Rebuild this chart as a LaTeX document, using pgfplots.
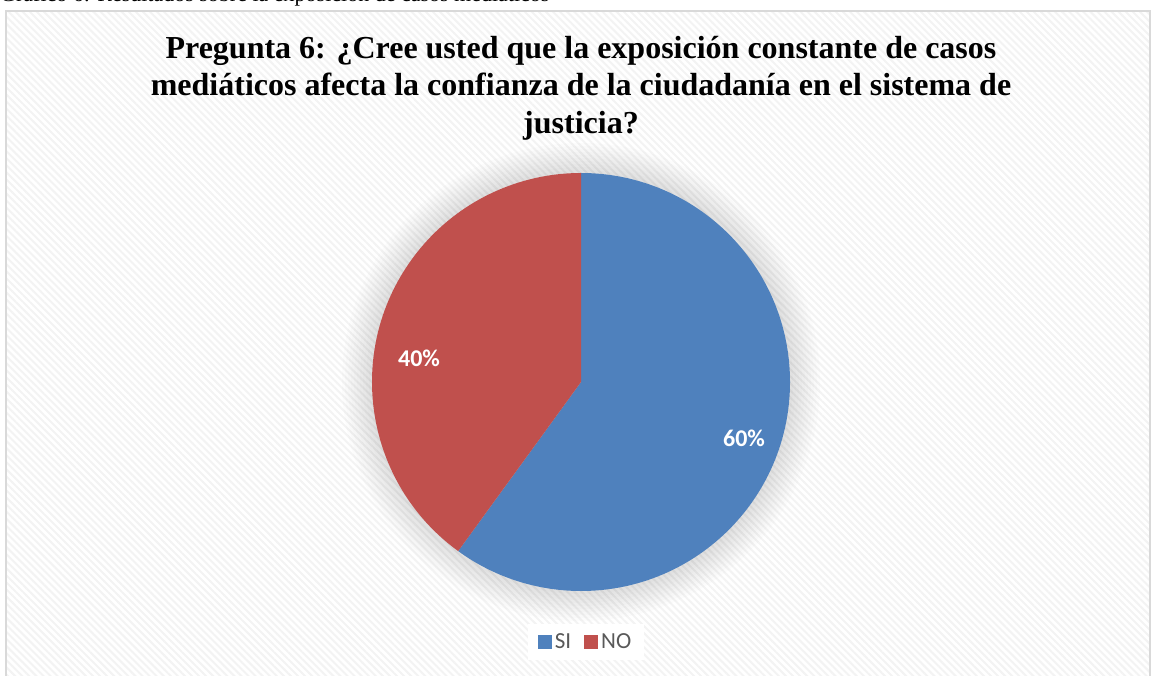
\documentclass[border=0pt]{standalone}
\usepackage{fontspec}
\setmainfont{Liberation Serif}
\newfontfamily\calibri{Carlito}
\usepackage{pgfplots}
\pgfplotsset{compat=1.18}
\usepackage{pgfplotstable}
\usetikzlibrary{patterns.meta}
\definecolor{siblue}{HTML}{4F81BD}
\definecolor{nored}{HTML}{C0504D}
\definecolor{legtext}{HTML}{595959}
\definecolor{framegray}{HTML}{D9D9D9}
\definecolor{stripe}{HTML}{F3F3F3}

% answers to question 6 (percent)
\pgfplotstableread{
label value
SI 60
NO 40
}\piedata

\begin{document}
\begin{tikzpicture}
\useasboundingbox (0,0) rectangle (1153pt,675pt);
\clip (0,0) rectangle (1153pt,675pt);
\fill[white] (0,0) rectangle (1153pt,675pt);
% caption line above the chart, cut by the page edge as in the source
\node[anchor=base west, font=\fontsize{22}{24}\selectfont, inner sep=0pt] at (0pt,673pt)
  {Gráfico 6: Resultados sobre la exposición de casos mediáticos};
% chart area
\fill[white] (6pt,-2pt) rectangle (1150pt,664pt);
\fill[pattern={Lines[angle=-45,distance=5pt,line width=2pt]}, pattern color=stripe]
  (6pt,-2pt) rectangle (1150pt,664pt);
\draw[framegray, line width=1.5pt] (6pt,-2pt) rectangle (1150pt,664pt);
% soft shadow behind the pie
\foreach \rr in {239,236,...,211} {
  \fill[black, opacity=0.011] (581pt,293pt) circle[radius=\rr pt];
}

\pgfplotstablegetelem{0}{value}\of\piedata \global\let\vsi\pgfplotsretval
\pgfplotstablegetelem{1}{value}\of\piedata \global\let\vno\pgfplotsretval
\pgfmathsetmacro{\asi}{90-3.6*\vsi}
\def\pieR{209pt}

\begin{axis}[
  x=1pt, y=1pt, xmin=0, xmax=1153, ymin=0, ymax=675,
  scale only axis, hide axis, clip=false,
  anchor=south west, at={(0,0)},
  legend columns=2,
  legend style={at={(axis cs:586,33)}, anchor=center, draw=none, fill=white,
    inner xsep=10pt, inner ysep=8pt,
    nodes={font=\calibri\fontsize{23}{25}\selectfont, text=legtext, inner xsep=3pt},
    /tikz/every even column/.append style={column sep=10pt}},
  legend image code/.code={\fill[#1, draw=none] (0pt,-7pt) rectangle (14pt,7pt);},
]
\fill[siblue] (axis cs:581,293) -- ++(90:\pieR) arc[start angle=90, end angle=\asi, radius=\pieR] -- cycle;
\fill[nored] (axis cs:581,293) -- ++(\asi:\pieR) arc[start angle=\asi, end angle=-270, radius=\pieR] -- cycle;
\node[white, font=\calibri\bfseries\fontsize{24}{26}\selectfont] at (axis cs:744,237) {\vsi\%};
\node[white, font=\calibri\bfseries\fontsize{24}{26}\selectfont] at (axis cs:419,317) {\vno\%};
\addlegendimage{fill=siblue}
\addlegendentry{SI}
\addlegendimage{fill=nored}
\addlegendentry{NO}
\end{axis}

\node[font=\bfseries\fontsize{32}{37.5}\selectfont, align=center] at (581pt,587pt)
  {Pregunta 6: ¿Cree usted que la exposición constante de casos\\
   mediáticos afecta la confianza de la ciudadanía en el sistema de\\
   justicia?};
\end{tikzpicture}
\end{document}
